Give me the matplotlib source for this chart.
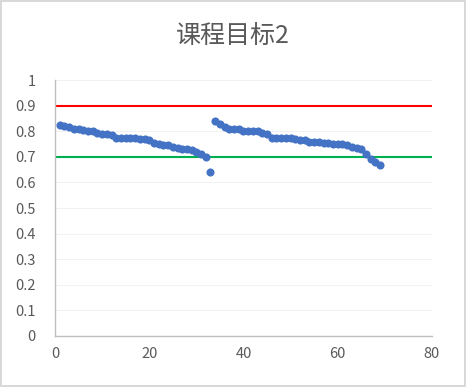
import matplotlib
matplotlib.use('Agg')
import matplotlib.pyplot as plt

plt.rcParams['font.family'] = ['Noto Sans CJK SC', 'DejaVu Sans']

# data
x_vals = list(range(1, 70))
scores = [0.825, 0.82, 0.815, 0.81, 0.81, 0.805, 0.80, 0.80, 0.795, 0.79,
          0.79, 0.785, 0.775, 0.775, 0.775, 0.775, 0.772, 0.77, 0.77, 0.765,
          0.755, 0.75, 0.745, 0.745, 0.74, 0.735, 0.73, 0.73, 0.725, 0.72,
          0.71, 0.70, 0.64,
          0.84, 0.83, 0.815, 0.81, 0.81, 0.81, 0.80, 0.80, 0.80, 0.80,
          0.795, 0.79, 0.775, 0.775, 0.775, 0.775, 0.775, 0.77, 0.765, 0.765,
          0.76, 0.76, 0.76, 0.755, 0.755, 0.75, 0.75, 0.75, 0.745, 0.74,
          0.735, 0.73, 0.71, 0.69, 0.68, 0.67]
target_hi = 0.9
target_lo = 0.7
title = '课程目标2'

fig = plt.figure(figsize=(4.66, 3.87), dpi=100)
fig.patch.set_edgecolor('#D9D9D9')
fig.patch.set_linewidth(1.5)
ax = fig.add_axes([0.118, 0.132, 0.809, 0.661])

ax.axhline(target_hi, color='#FF0000', lw=1.5, zorder=2)
ax.axhline(target_lo, color='#00B050', lw=1.5, zorder=2)
ax.scatter(x_vals, scores, s=34, color='#4472C4', zorder=3, linewidths=0)

ax.set_xlim(0, 80)
ax.set_ylim(0, 1)
ax.set_xticks(range(0, 81, 20))
ax.set_yticks([i / 10 for i in range(11)])
ax.set_yticklabels(['0', '0.1', '0.2', '0.3', '0.4', '0.5', '0.6', '0.7', '0.8', '0.9', '1'])
ax.grid(axis='y', color='#F0F0F0', lw=0.6)
ax.set_axisbelow(True)
for s in ['top', 'right']:
    ax.spines[s].set_visible(False)
for s in ['left', 'bottom']:
    ax.spines[s].set_color('#BFBFBF')
    ax.spines[s].set_linewidth(1)
ax.tick_params(length=0, labelsize=10.5, labelcolor='#595959', pad=8)
ax.tick_params(axis='y', pad=14)

fig.text(0.5, 0.905, title, ha='center', va='center', fontsize=18, color='#595959')

fig.savefig('out.png', dpi=100)
